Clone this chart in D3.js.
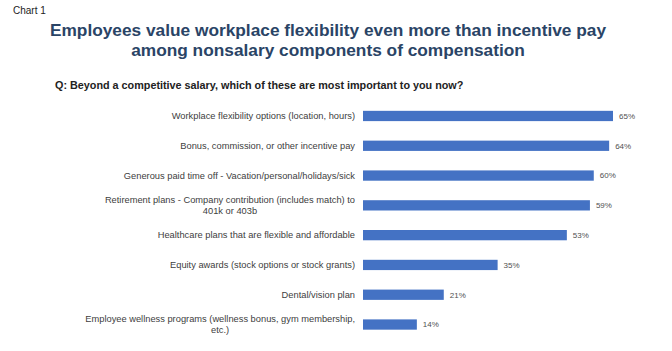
<!DOCTYPE html>
<html>
<head>
<meta charset="utf-8">
<script src="https://cdn.jsdelivr.net/npm/d3@7"></script>
<style>
  body { margin: 0; background: #fff; }
  text { font-family: "Liberation Sans", Arial, sans-serif; }
</style>
</head>
<body>
<div id="chart"></div>
<script>
// chart data
var categories = [
  ["Workplace flexibility options (location, hours)"],
  ["Bonus, commission, or other incentive pay"],
  ["Generous paid time off - Vacation/personal/holidays/sick"],
  ["Retirement plans - Company contribution (includes match) to", "401k or 403b"],
  ["Healthcare plans that are flexible and affordable"],
  ["Equity awards (stock options or stock grants)"],
  ["Dental/vision plan"],
  ["Employee wellness programs (wellness bonus, gym membership,", "etc.)"]
];
var values = [65, 64, 60, 59, 53, 35, 21, 14];

var width = 672, height = 351;
var labelRight = 355;

var svg = d3.select("#chart")
    .append("svg")
    .attr("width", width)
    .attr("height", height);

// headings
svg.append("text")
    .attr("x", 13).attr("y", 14)
    .style("font-size", "10px")
    .style("fill", "#222")
    .text("Chart 1");

var titleLines = ["Employees value workplace flexibility even more than incentive pay",
                  "among nonsalary components of compensation"];
svg.selectAll(".title")
    .data(titleLines)
    .enter()
    .append("text")
    .attr("class", "title")
    .attr("x", 328)
    .attr("y", function(d, i) { return 36 + i * 19.5; })
    .attr("text-anchor", "middle")
    .style("font-size", "17.3px")
    .style("font-weight", "bold")
    .style("fill", "#2a4466")
    .text(function(d) { return d; });

svg.append("text")
    .attr("x", 55).attr("y", 89)
    .style("font-size", "10.8px")
    .style("font-weight", "bold")
    .style("fill", "#222")
    .text("Q: Beyond a competitive salary, which of these are most important to you now?");

// scales
var x = d3.scaleLinear()
    .domain([0, 65])
    .range([363, 613]);

var y = d3.scaleBand()
    .domain(d3.range(values.length))
    .range([101, 339.5])
    .paddingInner(0.655)
    .paddingOuter(0.33);

// bars
svg.selectAll(".bar")
    .data(values)
    .enter()
    .append("rect")
    .attr("class", "bar")
    .attr("x", x(0))
    .attr("y", function(d, i) { return y(i); })
    .attr("width", function(d) { return x(d) - x(0); })
    .attr("height", y.bandwidth())
    .style("fill", "#4472c4");

// value labels
svg.selectAll(".val")
    .data(values)
    .enter()
    .append("text")
    .attr("class", "val")
    .attr("x", function(d) { return x(d) + 6; })
    .attr("y", function(d, i) { return y(i) + y.bandwidth() / 2 + 2.8; })
    .style("font-size", "8px")
    .style("fill", "#505050")
    .text(function(d) { return d + "%"; });

// category labels
var lab = svg.selectAll(".cat")
    .data(categories)
    .enter()
    .append("text")
    .attr("class", "cat")
    .attr("text-anchor", "end")
    .style("font-size", "9.3px")
    .style("fill", "#404040")
    .attr("y", function(d, i) {
        var c = y(i) + y.bandwidth() / 2 + 3.3;
        return d.length > 1 ? c - 6 : c;
    });

lab.selectAll("tspan")
    .data(function(d) { return d; })
    .enter()
    .append("tspan")
    .attr("x", labelRight)
    .attr("dy", function(d, j) { return j === 0 ? 0 : 11.6; })
    .text(function(d) { return d; });

// center second line of two-line labels under the first
lab.each(function(d) {
    if (d.length > 1) {
        var spans = d3.select(this).selectAll("tspan").nodes();
        var w0 = spans[0].getComputedTextLength();
        d3.select(spans[1]).attr("x", labelRight - w0 / 2).attr("text-anchor", "middle");
    }
});
</script>
</body>
</html>
